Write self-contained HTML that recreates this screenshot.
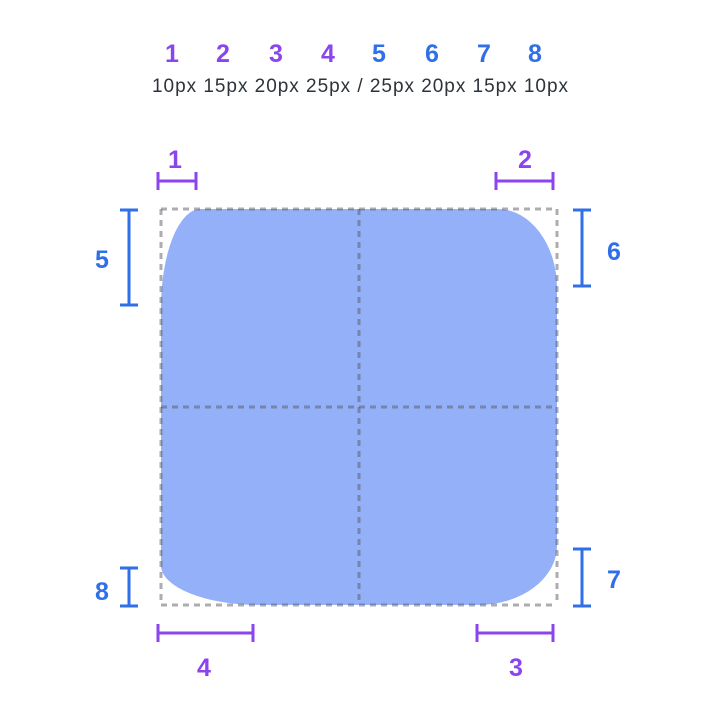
<!DOCTYPE html>
<html><head><meta charset="utf-8"><style>
html,body{margin:0;padding:0;background:#fff}
svg{display:block;font-family:"Liberation Sans",sans-serif}
</style></head><body>
<svg width="720" height="720" viewBox="0 0 720 720">
<g id="hdr"></g>
<text x="152" y="92" font-size="19" textLength="416" lengthAdjust="spacing" fill="#2d333a">10px 15px 20px 25px / 25px 20px 15px 10px</text>
<path id="shape" fill="#93b0f8"/>
<g id="grid"></g>
<g id="marks"></g>
</svg>
<script>
const hLabels=["1","2","3","4","5","6","7","8"];
const hColors=["#8b45ee","#8b45ee","#8b45ee","#8b45ee","#2f6fe8","#2f6fe8","#2f6fe8","#2f6fe8"];
const hX=[172,223,276,328,379,432,484,535];
const radiiH=[10,15,20,25]; // TL,TR,BR,BL horizontal
const radiiV=[25,20,15,10]; // TL,TR,BR,BL vertical
const X0=161,Y0=209,S=3.96,SZ=100,SM=3.8;
const NS="http://www.w3.org/2000/svg";
function mk(t,a,p){const e=document.createElementNS(NS,t);for(const k in a)e.setAttribute(k,a[k]);p.appendChild(e);return e;}
const hdr=document.getElementById('hdr');
hLabels.forEach((l,i)=>{const t=mk('text',{x:hX[i],y:62,'text-anchor':'middle','font-size':25,'font-weight':'bold',fill:hColors[i]},hdr);t.textContent=l;

});
const sx=v=>X0+v*S, sy=v=>Y0+v*S;
const [a,b,c,d]=radiiH.map(v=>v*S),[e,f,g,h]=radiiV.map(v=>v*S);
const L=sx(0),R=sx(SZ),T=sy(0),B=sy(SZ);
document.getElementById('shape').setAttribute('d',
`M${L+a},${T} L${R-b},${T} A${b},${f} 0 0 1 ${R},${T+f} L${R},${B-g} A${c},${g} 0 0 1 ${R-c},${B} L${L+d},${B} A${d},${h} 0 0 1 ${L},${B-h} L${L},${T+e} A${a},${e} 0 0 1 ${L+a},${T} Z`);
const grid=document.getElementById('grid');
const M=(L+R)/2,MY=(T+B)/2;
[[L,T,R,T],[L,B,R,B],[L,T,L,B],[R,T,R,B],[M,T,M,B],[L,MY,R,MY]].forEach(s=>{
const ln=mk('line',{x1:s[0],y1:s[1],x2:s[2],y2:s[3],stroke:'rgba(90,90,100,0.5)','stroke-width':3,'stroke-dasharray':'6 5'},grid);

});
const marks=document.getElementById('marks');
const P="#8b45ee",Bl="#2f6fe8";
const markers=[["1","h",radiiH[0],181,L-3,P,175,168,1],["2","h",radiiH[1],181,R-4,P,525,168,-1],
["4","h",radiiH[3],633,L-3,P,204,676,1],["3","h",radiiH[2],633,R-4,P,516,676,-1],
["5","v",radiiV[0],129,T+1,Bl,102,268,1],["6","v",radiiV[1],582,T+1,Bl,614,260,1],
["7","v",radiiV[2],582,B+1,Bl,614,588,-1],["8","v",radiiV[3],129,B+1,Bl,102,600,-1]];
markers.forEach(m=>{const g=mk('g',{},marks);


const len=m[2]*SM*m[8];const s0=m[4],s1=m[4]+len;const st={stroke:m[5],'stroke-width':3};
if(m[1]=="h"){mk('line',Object.assign({x1:s0,y1:m[3],x2:s1,y2:m[3]},st),g);
mk('line',Object.assign({x1:s0,y1:m[3]-9,x2:s0,y2:m[3]+9},st),g);mk('line',Object.assign({x1:s1,y1:m[3]-9,x2:s1,y2:m[3]+9},st),g);}
else{mk('line',Object.assign({x1:m[3],y1:s0,x2:m[3],y2:s1},st),g);
mk('line',Object.assign({x1:m[3]-9,y1:s0,x2:m[3]+9,y2:s0},st),g);mk('line',Object.assign({x1:m[3]-9,y1:s1,x2:m[3]+9,y2:s1},st),g);}
const t=mk('text',{x:m[6],y:m[7],'text-anchor':'middle','font-size':25,'font-weight':'bold',fill:m[5]},g);t.textContent=m[0];});
</script>
</body></html>
